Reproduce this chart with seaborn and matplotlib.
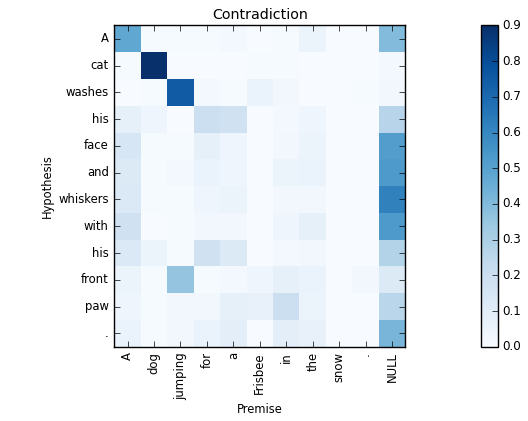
import matplotlib
matplotlib.use("Agg")
import matplotlib.pyplot as plt
import numpy as np
import pandas as pd
import seaborn as sns

premise = ["A", "dog", "jumping", "for", "a", "Frisbee", "in", "the", "snow", ".", "NULL"]
hypothesis = ["A", "cat", "washes", "his", "face", "and", "whiskers", "with", "his", "front", "paw", "."]

row_A        = [0.48, 0.01, 0.01, 0.01, 0.02, 0.00, 0.01, 0.05, 0.00, 0.00, 0.40]
row_cat      = [0.01, 0.90, 0.00, 0.00, 0.00, 0.01, 0.01, 0.00, 0.00, 0.00, 0.02]
row_washes   = [0.00, 0.01, 0.75, 0.02, 0.01, 0.06, 0.03, 0.00, 0.00, 0.01, 0.03]
row_his1     = [0.08, 0.04, 0.00, 0.20, 0.18, 0.00, 0.02, 0.04, 0.00, 0.00, 0.27]
row_face     = [0.15, 0.01, 0.01, 0.08, 0.04, 0.00, 0.03, 0.05, 0.00, 0.00, 0.52]
row_and      = [0.12, 0.01, 0.02, 0.06, 0.04, 0.00, 0.05, 0.06, 0.00, 0.00, 0.53]
row_whiskers = [0.13, 0.01, 0.01, 0.04, 0.05, 0.00, 0.03, 0.03, 0.00, 0.00, 0.62]
row_with     = [0.18, 0.00, 0.01, 0.03, 0.03, 0.00, 0.04, 0.08, 0.00, 0.00, 0.53]
row_his2     = [0.13, 0.05, 0.01, 0.18, 0.12, 0.00, 0.02, 0.03, 0.00, 0.00, 0.28]
row_front    = [0.05, 0.01, 0.36, 0.01, 0.02, 0.04, 0.08, 0.06, 0.00, 0.03, 0.12]
row_paw      = [0.04, 0.01, 0.03, 0.03, 0.08, 0.07, 0.20, 0.05, 0.00, 0.00, 0.26]
row_dot      = [0.06, 0.01, 0.03, 0.06, 0.09, 0.00, 0.09, 0.07, 0.00, 0.00, 0.42]

weights = pd.DataFrame(
    [row_A, row_cat, row_washes, row_his1, row_face, row_and, row_whiskers,
     row_with, row_his2, row_front, row_paw, row_dot],
    index=hypothesis, columns=premise,
)

plt.style.use("classic")
fig = plt.figure(figsize=(5.28, 4.21), dpi=100, facecolor="white")
ax = fig.add_axes([0.2165, 0.1765, 0.551, 0.763])
cax = fig.add_axes([0.911, 0.1765, 0.0316, 0.763])

sns.heatmap(weights, ax=ax, cbar_ax=cax, cmap="Blues", vmin=0.0, vmax=0.9,
            xticklabels=premise, yticklabels=hypothesis)

for side in ax.spines.values():
    side.set_visible(True)
    side.set_color("black")
    side.set_linewidth(1.0)
ax.tick_params(direction="in", length=4, top=True, right=True, labelsize=8.4, pad=4)
ax.set_xticklabels(premise, rotation=90)
ax.set_yticklabels(hypothesis, rotation=0)
ax.set_title("Contradiction", fontsize=10.3)
ax.set_xlabel("Premise", fontsize=8.3, labelpad=2)
ax.set_ylabel("Hypothesis", fontsize=8.3, labelpad=3)

cb = ax.collections[0].colorbar
cb.outline.set_visible(True)
cb.outline.set_linewidth(1.0)
cb.outline.set_edgecolor("black")
cb.set_ticks(np.arange(0, 0.91, 0.1))
cb.ax.tick_params(labelsize=8.6, direction="in", length=4, pad=3)

fig.savefig("out.png", dpi=100, facecolor="white")
